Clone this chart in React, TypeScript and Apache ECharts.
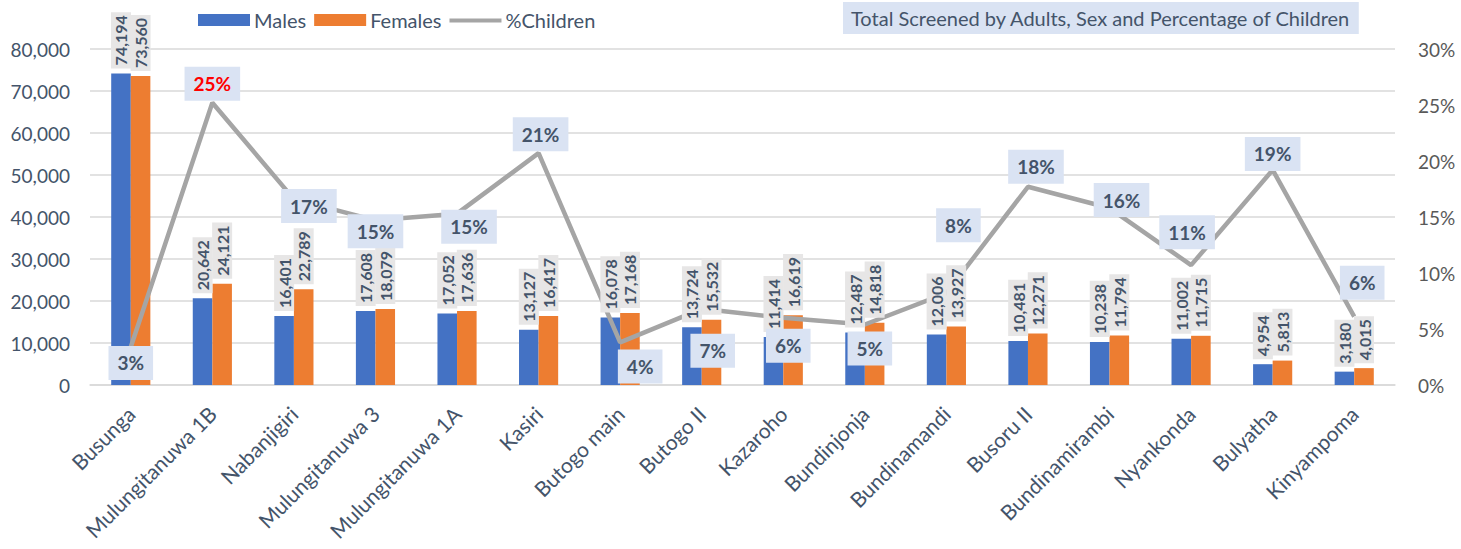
import React, { useEffect, useRef } from "react";
import * as echarts from "echarts";

const categories = [
  "Busunga", "Mulungitanuwa 1B", "Nabanjigiri", "Mulungitanuwa 3", "Mulungitanuwa 1A",
  "Kasiri", "Butogo main", "Butogo II", "Kazaroho", "Bundinjonja", "Bundinamandi",
  "Busoru II", "Bundinamirambi", "Nyankonda", "Bulyatha", "Kinyampoma",
];
const males = [74194, 20642, 16401, 17608, 17052, 13127, 16078, 13724, 11414, 12487, 12006, 10481, 10238, 11002, 4954, 3180];
const females = [73560, 24121, 22789, 18079, 17636, 16417, 17168, 15532, 16619, 14818, 13927, 12271, 11794, 11715, 5813, 4015];
const pctChildren = [3.4, 25.2, 16.6, 14.7, 15.3, 20.7, 3.8, 6.8, 6.0, 5.4, 8.2, 17.7, 15.8, 10.7, 19.2, 6.1];
// label offsets (dx, dy) from each line point
const pctLabelOffsets = [
  [0, 16], [0, -19], [15, 7], [0, 11], [12, 13], [2, -19], [20, 24], [11, 42],
  [5, 28], [5, 24], [12, -68], [8, -20], [12, -8], [-4, -33], [0, -16], [8, -34],
];
const highlightIndex = 1;

const FONT = "Lato, 'Open Sans', sans-serif";
const CLEAR = "rgba(0,0,0,0)";

export default function App() {
  const ref = useRef<HTMLDivElement>(null);
  useEffect(() => {
    document.body.style.margin = "0";
    if (!ref.current) return;
    const chart = echarts.init(ref.current, null, { renderer: "svg" });
    const barLabel = {
      show: true,
      position: "top",
      rotate: 90,
      align: "left",
      verticalAlign: "middle",
      distance: 5,
      fontFamily: FONT,
      fontSize: 16,
      lineHeight: 17,
      fontWeight: "bold",
      color: "#44546a",
      backgroundColor: "#e7e6e6",
      padding: [2, 3, 1, 3],
      formatter: (p: any) => Number(p.value).toLocaleString("en-US"),
    };
    const barCommon = { barGap: "0%", barCategoryGap: "52%" };
    chart.setOption({
      animation: false,
      textStyle: { fontFamily: FONT },
      title: {
        text: "Total Screened by Adults, Sex and Percentage of Children",
        left: 843,
        top: 2,
        backgroundColor: "#dae3f3",
        padding: [6, 8, 6, 8],
        textStyle: { fontFamily: FONT, fontSize: 20, fontWeight: "normal", color: "#44546a" },
      },
      legend: {
        left: 193,
        top: 5,
        itemWidth: 52,
        itemHeight: 12,
        itemGap: 8,
        textStyle: { fontFamily: FONT, fontSize: 20, color: "#44546a", padding: [0, 0, 0, -1] },
        data: [
          { name: "Males", icon: "rect" },
          { name: "Females", icon: "rect" },
          { name: "%Children", icon: "path://M0,0 M0,4.5 L52,4.5 L52,8.5 L0,8.5 Z M52,12" },
        ],
      },
      grid: { left: 90, right: 66, top: 49, bottom: 164 },
      xAxis: [
        {
          type: "category",
          data: categories,
          axisLine: { show: true, lineStyle: { color: "#d9d9d9", width: 1.5 } },
          axisTick: { show: false },
          axisLabel: {
            rotate: 45,
            interval: 0,
            fontFamily: FONT,
            fontSize: 21,
            color: "#44546a",
            margin: 25,
          },
        },
        {
          type: "category",
          data: categories,
          show: false,
        },
      ],
      yAxis: [
        {
          type: "value",
          min: 0,
          max: 80000,
          interval: 10000,
          axisLine: { show: false },
          axisTick: { show: false },
          splitLine: { lineStyle: { color: "#d9d9d9", width: 1.5 } },
          axisLabel: {
            fontFamily: FONT,
            fontSize: 19,
            color: "#44546a",
            margin: 20,
            formatter: (v: number) => v.toLocaleString("en-US"),
          },
        },
        {
          type: "value",
          min: 0,
          max: 30,
          interval: 5,
          axisLine: { show: false },
          axisTick: { show: false },
          splitLine: { show: false },
          axisLabel: {
            fontFamily: FONT,
            fontSize: 19,
            color: "#595959",
            margin: 23,
            formatter: "{value}%",
          },
        },
      ],
      series: [
        {
          name: "Males",
          type: "bar",
          z: 2,
          data: males,
          itemStyle: { color: "#4472c4" },
          ...barCommon,
        },
        {
          name: "Females",
          type: "bar",
          z: 2,
          data: females,
          itemStyle: { color: "#ed7d31" },
          ...barCommon,
        },
        {
          name: "%Children",
          type: "line",
          z: 3,
          yAxisIndex: 1,
          symbol: "none",
          lineStyle: { color: "#a5a5a5", width: 4.5 },
          itemStyle: { color: "#a5a5a5" },
          data: pctChildren,
        },
        {
          name: "Males values",
          type: "bar",
          xAxisIndex: 1,
          z: 4,
          data: males,
          itemStyle: { color: CLEAR },
          label: barLabel,
          silent: true,
          ...barCommon,
        },
        {
          name: "Females values",
          type: "bar",
          xAxisIndex: 1,
          z: 4,
          data: females,
          itemStyle: { color: CLEAR },
          label: barLabel,
          silent: true,
          ...barCommon,
        },
        {
          name: "%Children values",
          type: "line",
          z: 5,
          yAxisIndex: 1,
          symbol: "circle",
          symbolSize: 1,
          showSymbol: true,
          silent: true,
          lineStyle: { width: 0, color: CLEAR },
          itemStyle: { color: CLEAR },
          data: pctChildren.map((v, i) => ({
            value: v,
            label: {
              offset: pctLabelOffsets[i],
              color: i === highlightIndex ? "#ff0000" : "#44546a",
            },
          })),
          label: {
            show: true,
            position: "inside",
            fontFamily: FONT,
            fontSize: 19,
            fontWeight: "bold",
            backgroundColor: "#dae3f3",
            padding: [8, 9, 7, 9],
            formatter: (p: any) => Math.round(p.value) + "%",
          },
        },
      ],
    });
    return () => chart.dispose();
  }, []);
  return <div ref={ref} style={{ width: 1461, height: 549 }} />;
}
